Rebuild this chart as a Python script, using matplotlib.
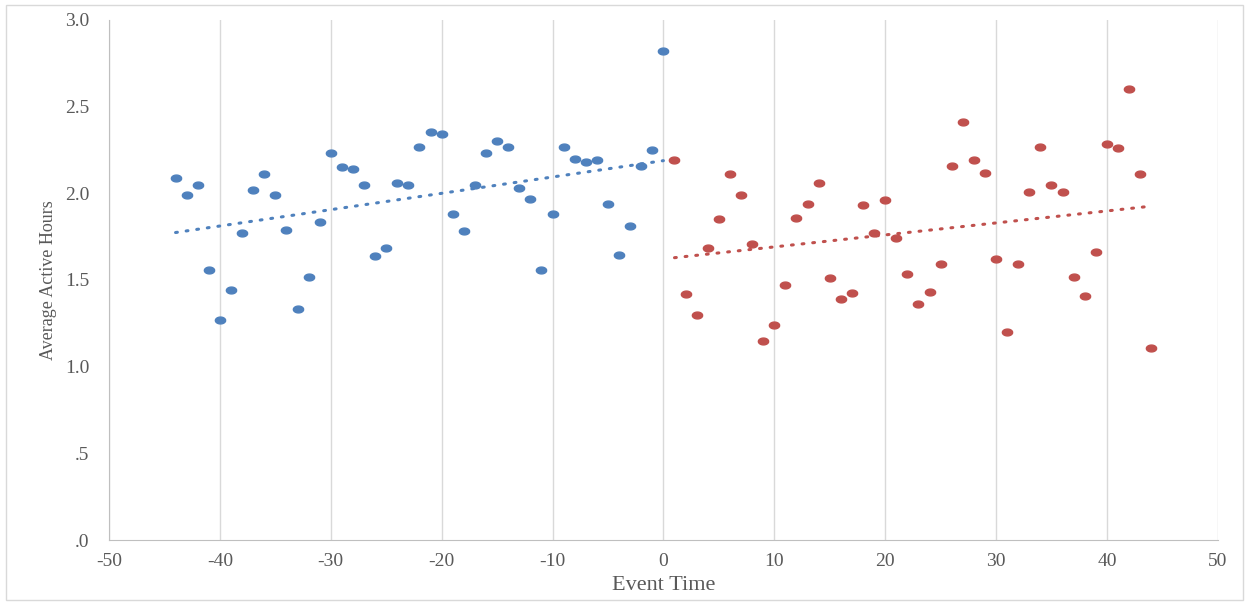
import numpy as np
import matplotlib
matplotlib.use('Agg')
import matplotlib.pyplot as plt
from matplotlib.ticker import FuncFormatter

# pre-event (blue) and post-event (red) averages
pre_time = list(range(-44, 1))
pre_hours = [2.09, 1.99, 2.05, 1.56, 1.27, 1.44, 1.77, 2.02, 2.11, 1.99,
             1.79, 1.33, 1.52, 1.835, 2.23, 2.15, 2.14, 2.05, 1.64, 1.685,
             2.06, 2.05, 2.27, 2.355, 2.34, 1.88, 1.78, 2.05, 2.23, 2.30,
             2.27, 2.03, 1.97, 1.56, 1.88, 2.27, 2.20, 2.18, 2.19, 1.94,
             1.645, 1.81, 2.16, 2.25, 2.82]
post_time = list(range(1, 45))
post_hours = [2.19, 1.42, 1.30, 1.685, 1.85, 2.11, 1.99, 1.71, 1.15, 1.24,
              1.47, 1.86, 1.94, 2.06, 1.51, 1.39, 1.425, 1.93, 1.77, 1.96,
              1.74, 1.535, 1.36, 1.43, 1.59, 2.16, 2.41, 2.19, 2.12, 1.62,
              1.20, 1.59, 2.01, 2.27, 2.05, 2.01, 1.52, 1.41, 1.66, 2.285,
              2.26, 2.60, 2.11, 1.11]

blue = '#4f81bd'
red = '#c0504d'
txt = '#595959'

plt.rcParams['font.family'] = ['Liberation Serif', 'DejaVu Serif']
plt.rcParams['axes.unicode_minus'] = False

# slightly wide ellipse marker (the original is stretched horizontally)
ang = np.linspace(0, 2 * np.pi, 40)
ellipse = list(zip(1.5 * np.cos(ang), np.sin(ang)))

fig = plt.figure(figsize=(12.49, 6.05), dpi=100)
ax = fig.add_axes([0.0873, 0.1074, 0.8877, 0.8596])

# outer chart border
fig.patches.append(plt.Rectangle((0.005, 0.008), 0.99, 0.983, transform=fig.transFigure,
                                 fill=False, edgecolor='#d9d9d9', linewidth=1))

ax.plot(pre_time, pre_hours, linestyle='none', marker=ellipse, color=blue, ms=7.4, zorder=3)
ax.plot(post_time, post_hours, linestyle='none', marker=ellipse, color=red, ms=7.4, zorder=3)

# linear trendlines
for t, h, c in [(pre_time, pre_hours, blue), (post_time, post_hours, red)]:
    k, b = np.polyfit(t, h, 1)
    xs = np.array([t[0], t[-1]])
    ax.plot(xs, k * xs + b, linestyle=(0, (0.6, 2.9)), dash_capstyle='round',
            color=c, lw=2.2, zorder=2)

ax.set_xlim(-50, 50)
ax.set_ylim(0, 3.0)
ax.set_xticks(range(-50, 51, 10))
ax.set_yticks(np.arange(0, 3.01, 0.5))
ax.yaxis.set_major_formatter(FuncFormatter(lambda v, p: ('%.1f' % v).lstrip('0') if v < 1 else '%.1f' % v))
ax.grid(axis='x', color='#d9d9d9', lw=1)
ax.set_axisbelow(True)
for s in ['top', 'right']:
    ax.spines[s].set_visible(False)
for s in ['left', 'bottom']:
    ax.spines[s].set_color('#bfbfbf')
ax.tick_params(length=0, labelsize=14, colors=txt)
ax.tick_params(axis='x', pad=9)
ax.tick_params(axis='y', pad=14)
ax.set_xlabel('Event Time', fontsize=16, color=txt, labelpad=5)
ax.set_ylabel('Average Active Hours', fontsize=13, color=txt, labelpad=6)

fig.savefig('out.png', dpi=100)
